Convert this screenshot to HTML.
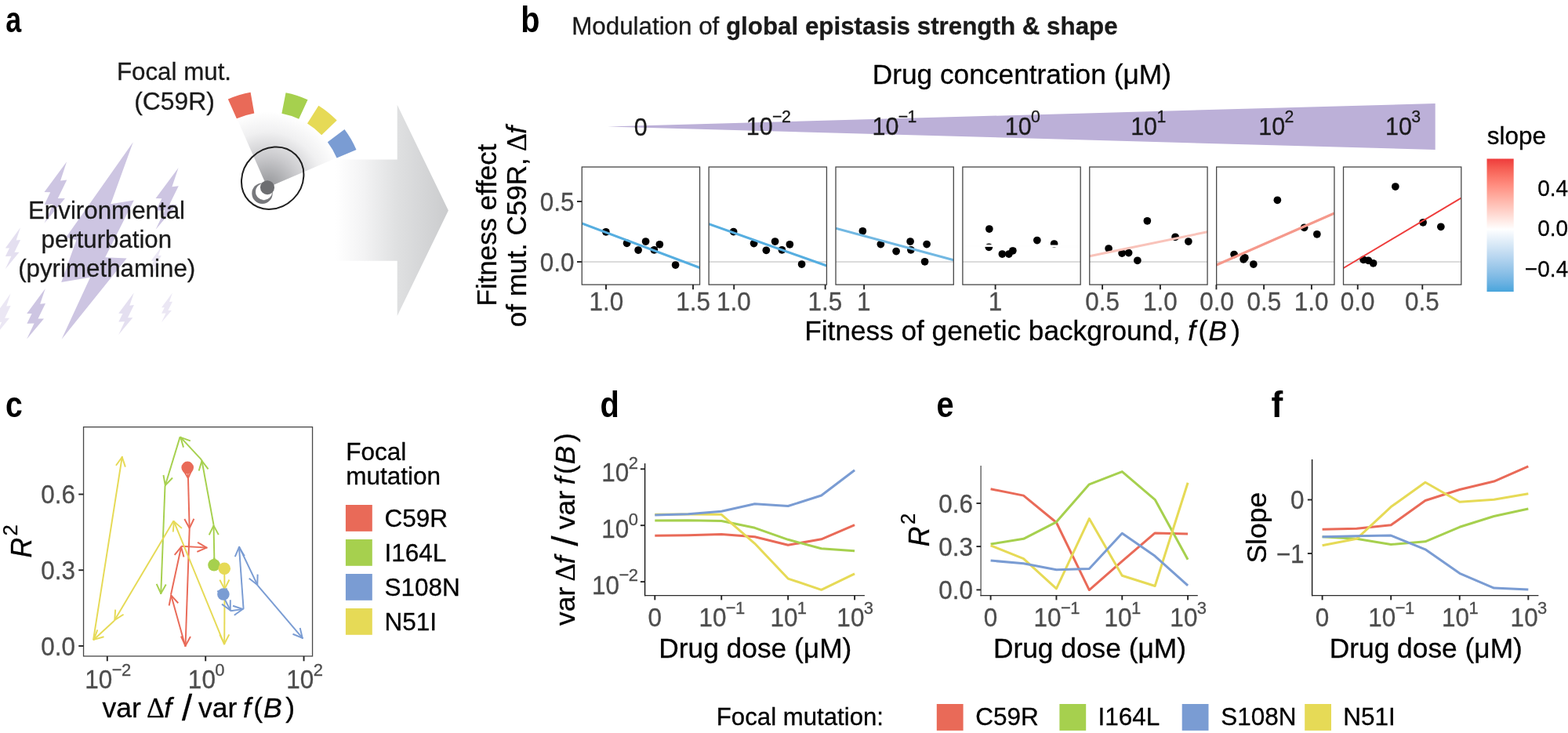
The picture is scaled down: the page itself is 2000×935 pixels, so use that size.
<!DOCTYPE html>
<html lang="en"><head><meta charset="utf-8"><title>Modulation of global epistasis strength &amp; shape</title>
<style>html,body{margin:0;padding:0;background:#fff;}body{width:2000px;height:935px;overflow:hidden;}svg{display:block;}text{font-family:'Liberation Sans', Arial, Helvetica, sans-serif;}</style>
</head><body>
<svg width="2000" height="935" viewBox="0 0 2000 935">
<defs>
<radialGradient id="gFan" gradientUnits="userSpaceOnUse" cx="341" cy="239.2" r="97"><stop offset="0" stop-color="#97989c"/><stop offset="0.14" stop-color="#a5a6a9"/><stop offset="0.4" stop-color="#c9c9cc"/><stop offset="0.73" stop-color="#f0f0f1"/><stop offset="1" stop-color="#ffffff"/></radialGradient>
<linearGradient id="gArrow" gradientUnits="userSpaceOnUse" x1="428" y1="0" x2="571" y2="0"><stop offset="0" stop-color="#ffffff"/><stop offset="0.25" stop-color="#f3f3f4"/><stop offset="0.55" stop-color="#dfe0e1"/><stop offset="1" stop-color="#cbccce"/></linearGradient>
<linearGradient id="gBar" x1="0" y1="0" x2="0" y2="1"><stop offset="0.0000" stop-color="#ee3b3b"/><stop offset="0.0663" stop-color="#f55b51"/><stop offset="0.1325" stop-color="#fb7568"/><stop offset="0.1988" stop-color="#ff8d80"/><stop offset="0.2650" stop-color="#ffa598"/><stop offset="0.3313" stop-color="#ffbcb1"/><stop offset="0.3976" stop-color="#ffd2ca"/><stop offset="0.4638" stop-color="#ffe9e4"/><stop offset="0.5301" stop-color="#ffffff"/><stop offset="0.5888" stop-color="#ebf3fb"/><stop offset="0.6476" stop-color="#d7e8f6"/><stop offset="0.7063" stop-color="#c3dcf2"/><stop offset="0.7650" stop-color="#aed1ee"/><stop offset="0.8238" stop-color="#98c6e9"/><stop offset="0.8825" stop-color="#81bbe5"/><stop offset="0.9413" stop-color="#67b0e1"/><stop offset="1.0000" stop-color="#48a5dc"/></linearGradient>
</defs>
<rect width="2000" height="935" fill="#fff"/>
<g id="panel-a">
<polygon points="169.8,181.3 141.2,260.3 170.8,255.6 134.2,328.3 161.6,329.4 78.6,432.8 115.1,353.8 78.2,360 97.4,306.2 84.2,302.8" fill="#cdc5e2"/>
<polygon points="85.1,206.3 77.1,230.4 85.3,229.4 73.8,253.0 82.9,253.0 56.5,284.8 67.9,260.4 56.7,260.9 64.2,245.3 56.5,245.1" fill="#cdc5e2"/>
<polygon points="227.6,214.0 219.4,238.2 227.8,237.2 216.1,260.9 225.4,260.9 198.6,292.8 210.2,268.3 198.8,268.8 206.4,253.2 198.6,252.9" fill="#cdc5e2"/>
<polygon points="26.0,290.3 20.6,306.6 26.1,305.9 18.4,321.8 24.5,321.8 6.8,343.3 14.4,326.8 6.9,327.1 12.0,316.6 6.8,316.5" fill="#e4dff0"/>
<polygon points="13.6,374.3 8.3,390.6 13.7,389.9 6.1,405.8 12.1,405.8 -5.3,427.3 2.2,410.8 -5.2,411.1 -0.2,400.6 -5.3,400.5" fill="#ebe7f4"/>
<polygon points="57.8,368.0 51.2,387.8 58.0,387.0 48.5,406.4 56.0,406.4 34.2,432.5 43.6,412.4 34.4,412.8 40.6,400.1 34.2,399.9" fill="#cdc5e2"/>
<polygon points="170.8,373.4 165.3,389.8 170.9,389.1 163.0,405.2 169.3,405.2 151.2,426.9 159.0,410.3 151.3,410.6 156.5,400.0 151.2,399.8" fill="#e4dff0"/>
<polygon points="219.9,373.6 216.0,385.1 220.0,384.7 214.4,396.0 218.9,396.0 206.0,411.2 211.5,399.5 206.1,399.7 209.8,392.3 206.0,392.2" fill="#ebe7f4"/>
<polygon points="205.7,315.0 201.9,326.2 205.8,325.7 200.4,336.7 204.7,336.7 192.3,351.5 197.6,340.1 192.4,340.4 195.9,333.1 192.3,333.0" fill="#ebe7f4"/>
<polygon points="428,203.4 506.7,203.4 506.7,133.8 571.9,268.4 506.7,403 506.7,332.7 428,332.7" fill="url(#gArrow)"/>
<path d="M341,239.2 L301.86,150.45 A97,97 0 0 1 430.16,200.99 Z" fill="url(#gFan)"/>
<path d="M301.87,151.32 L290.85,126.56 A123.3,123.3 0 0 1 319.59,117.77 L324.30,144.46 A96.2,96.2 0 0 0 301.87,151.32 Z" fill="#e96a58"/>
<path d="M359.36,144.77 L364.53,118.17 A123.3,123.3 0 0 1 392.52,127.18 L381.20,151.80 A96.2,96.2 0 0 0 359.36,144.77 Z" fill="#a6d04e"/>
<path d="M391.98,157.62 L406.34,134.64 A123.3,123.3 0 0 1 429.69,153.55 L410.20,172.37 A96.2,96.2 0 0 0 391.98,157.62 Z" fill="#e6da56"/>
<path d="M417.83,181.31 L439.47,165.00 A123.3,123.3 0 0 1 454.50,191.02 L429.55,201.61 A96.2,96.2 0 0 0 417.83,181.31 Z" fill="#7a9cd3"/>
<circle cx="334.5" cy="246.7" r="13.2" fill="#77787c"/>
<circle cx="336.6" cy="244.6" r="10.6" fill="#fff"/>
<circle cx="341" cy="239.2" r="9" fill="#6d6e71"/>
<ellipse cx="347.7" cy="227.2" rx="41.9" ry="37.4" transform="rotate(-45 347.7 227.2)" fill="none" stroke="#1f1f1f" stroke-width="2"/>
<text x="222.00" y="102.20" font-size="31.3" text-anchor="middle" fill="#1a1a1a" stroke="#1a1a1a" stroke-width="0.3">Focal mut.</text>
<text x="222.50" y="139.60" font-size="31.8" text-anchor="middle" fill="#1a1a1a" stroke="#1a1a1a" stroke-width="0.3">(C59R)</text>
<text x="136.00" y="278.70" font-size="31.3" text-anchor="middle" fill="#1a1a1a" stroke="#1a1a1a" stroke-width="0.3">Environmental</text>
<text x="135.80" y="316.30" font-size="31.2" text-anchor="middle" fill="#1a1a1a" stroke="#1a1a1a" stroke-width="0.3">perturbation</text>
<text x="136.20" y="353.10" font-size="31.3" text-anchor="middle" fill="#1a1a1a" stroke="#1a1a1a" stroke-width="0.3">(pyrimethamine)</text>
</g>
<g id="panel-b">
<text x="729.20" y="44.10" font-size="31.33" fill="#1a1a1a" stroke="#1a1a1a" stroke-width="0.3">Modulation of <tspan font-weight="bold">global epistasis strength &amp; shape</tspan></text>
<text x="1303.30" y="107.10" font-size="35.3" text-anchor="middle" stroke="#000" stroke-width="0.3">Drug concentration (μM)</text>
<polygon points="775,161.4 1830.7,132.1 1830.7,191" fill="#bcb0d8"/>
<text transform="translate(817.30 172.50) scale(1 1.035)" font-size="30.5" text-anchor="middle" fill="#1a1a1a" stroke="#1a1a1a" stroke-width="0.3">0</text>
<text transform="translate(980.00 172.40) scale(1 1.035)" font-size="30.5" text-anchor="middle" fill="#1a1a1a" stroke="#1a1a1a" stroke-width="0.3">10<tspan font-size="21.3" dy="-16.3" dx="-0.6" letter-spacing="-0.6">−2</tspan></text>
<text transform="translate(1140.60 172.40) scale(1 1.035)" font-size="30.5" text-anchor="middle" fill="#1a1a1a" stroke="#1a1a1a" stroke-width="0.3">10<tspan font-size="21.3" dy="-16.3" dx="-0.6" letter-spacing="-0.6">−1</tspan></text>
<text transform="translate(1304.00 172.40) scale(1 1.035)" font-size="30.5" text-anchor="middle" fill="#1a1a1a" stroke="#1a1a1a" stroke-width="0.3">10<tspan font-size="21.3" dy="-16.3" dx="-0.6" letter-spacing="-0.6">0</tspan></text>
<text transform="translate(1464.40 172.40) scale(1 1.035)" font-size="30.5" text-anchor="middle" fill="#1a1a1a" stroke="#1a1a1a" stroke-width="0.3">10<tspan font-size="21.3" dy="-16.3" dx="-0.6" letter-spacing="-0.6">1</tspan></text>
<text transform="translate(1627.50 172.40) scale(1 1.035)" font-size="30.5" text-anchor="middle" fill="#1a1a1a" stroke="#1a1a1a" stroke-width="0.3">10<tspan font-size="21.3" dy="-16.3" dx="-0.6" letter-spacing="-0.6">2</tspan></text>
<text transform="translate(1789.30 172.40) scale(1 1.035)" font-size="30.5" text-anchor="middle" fill="#1a1a1a" stroke="#1a1a1a" stroke-width="0.3">10<tspan font-size="21.3" dy="-16.3" dx="-0.6" letter-spacing="-0.6">3</tspan></text>
<text transform="translate(632.50 287.00) rotate(-90)" font-size="34.9" text-anchor="middle" stroke="#000" stroke-width="0.3">Fitness effect</text>
<text transform="translate(670.50 417.20) rotate(-90)" font-size="35.0" stroke="#000" stroke-width="0.3"><tspan x="0.00" y="0">of mut. C59R,</tspan><tspan x="224.20" y="0" font-family="Liberation Serif, serif" font-size="35.5">Δ</tspan><tspan x="246.40" y="0" font-style="italic" font-size="35.5">f</tspan></text>
<text transform="translate(1026.30 434.00)" font-size="35.2" stroke="#000" stroke-width="0.3"><tspan x="0.00" y="0">Fitness of genetic background,</tspan><tspan x="488.90" y="0" font-style="italic">f</tspan><tspan x="502.30" y="0">(</tspan><tspan x="515.10" y="0" font-style="italic">B</tspan><tspan x="543.90" y="0">)</tspan></text>
<line x1="736" y1="257" x2="742.25" y2="257" stroke="#242424" stroke-width="1.9"/>
<text transform="translate(732.50 268.60) scale(1 1.035)" font-size="31.5" text-anchor="end" fill="#4d4d4d" stroke="#4d4d4d" stroke-width="0.3">0.5</text>
<line x1="736" y1="334" x2="742.25" y2="334" stroke="#242424" stroke-width="1.9"/>
<text transform="translate(732.50 345.60) scale(1 1.035)" font-size="31.5" text-anchor="end" fill="#4d4d4d" stroke="#4d4d4d" stroke-width="0.3">0.0</text>
<clipPath id="cp0"><rect x="742.25" y="213.0" width="150.3" height="150.10000000000002"/></clipPath>
<g clip-path="url(#cp0)">
<line x1="742.25" y1="334" x2="892.55" y2="334" stroke="#cfcfcf" stroke-width="1.3"/>
<circle cx="772.85" cy="295.80" r="4.85" fill="#000"/>
<circle cx="799.60" cy="310.30" r="4.85" fill="#000"/>
<circle cx="814.10" cy="319.05" r="4.85" fill="#000"/>
<circle cx="823.60" cy="308.05" r="4.85" fill="#000"/>
<circle cx="834.35" cy="318.80" r="4.85" fill="#000"/>
<circle cx="841.35" cy="311.80" r="4.85" fill="#000"/>
<circle cx="861.60" cy="338.05" r="4.85" fill="#000"/>
<line x1="742.25" y1="285" x2="892.55" y2="341.5" stroke="#56aee0" stroke-width="3.1"/>
</g>
<rect x="742.25" y="213.0" width="150.3" height="150.10000000000002" fill="none" stroke="#474747" stroke-width="1.3"/>
<line x1="773" y1="363.1" x2="773" y2="369.3" stroke="#242424" stroke-width="1.9"/>
<text transform="translate(773.30 395.60) scale(1 1.035)" font-size="31.5" text-anchor="middle" fill="#4d4d4d" stroke="#4d4d4d" stroke-width="0.3">1.0</text>
<line x1="884.0" y1="363.1" x2="884.0" y2="369.3" stroke="#242424" stroke-width="1.9"/>
<text transform="translate(884.05 395.60) scale(1 1.035)" font-size="31.5" text-anchor="middle" fill="#4d4d4d" stroke="#4d4d4d" stroke-width="0.3">1.5</text>
<clipPath id="cp1"><rect x="904.13" y="213.0" width="150.3" height="150.10000000000002"/></clipPath>
<g clip-path="url(#cp1)">
<line x1="904.13" y1="334" x2="1054.43" y2="334" stroke="#cfcfcf" stroke-width="1.3"/>
<circle cx="935.60" cy="295.55" r="4.85" fill="#000"/>
<circle cx="961.60" cy="310.55" r="4.85" fill="#000"/>
<circle cx="977.35" cy="319.30" r="4.85" fill="#000"/>
<circle cx="988.60" cy="308.05" r="4.85" fill="#000"/>
<circle cx="997.35" cy="318.80" r="4.85" fill="#000"/>
<circle cx="1007.35" cy="311.80" r="4.85" fill="#000"/>
<circle cx="1022.60" cy="337.05" r="4.85" fill="#000"/>
<line x1="904.13" y1="285.75" x2="1054.43" y2="339" stroke="#56aee0" stroke-width="3.1"/>
</g>
<rect x="904.13" y="213.0" width="150.3" height="150.10000000000002" fill="none" stroke="#474747" stroke-width="1.3"/>
<line x1="936.2" y1="363.1" x2="936.2" y2="369.3" stroke="#242424" stroke-width="1.9"/>
<text transform="translate(935.80 395.60) scale(1 1.035)" font-size="31.5" text-anchor="middle" fill="#4d4d4d" stroke="#4d4d4d" stroke-width="0.3">1.0</text>
<line x1="1052.65" y1="363.1" x2="1052.65" y2="369.3" stroke="#242424" stroke-width="1.9"/>
<text transform="translate(1052.30 395.60) scale(1 1.035)" font-size="31.5" text-anchor="middle" fill="#4d4d4d" stroke="#4d4d4d" stroke-width="0.3">1.5</text>
<clipPath id="cp2"><rect x="1066.01" y="213.0" width="150.3" height="150.10000000000002"/></clipPath>
<g clip-path="url(#cp2)">
<line x1="1066.01" y1="334" x2="1216.31" y2="334" stroke="#cfcfcf" stroke-width="1.3"/>
<circle cx="1100.35" cy="294.80" r="4.85" fill="#000"/>
<circle cx="1123.35" cy="311.55" r="4.85" fill="#000"/>
<circle cx="1143.10" cy="320.55" r="4.85" fill="#000"/>
<circle cx="1161.10" cy="308.05" r="4.85" fill="#000"/>
<circle cx="1161.85" cy="318.80" r="4.85" fill="#000"/>
<circle cx="1182.10" cy="311.55" r="4.85" fill="#000"/>
<circle cx="1179.60" cy="333.80" r="4.85" fill="#000"/>
<line x1="1066.01" y1="291.25" x2="1216.31" y2="331.75" stroke="#72b8e2" stroke-width="2.9"/>
</g>
<rect x="1066.01" y="213.0" width="150.3" height="150.10000000000002" fill="none" stroke="#474747" stroke-width="1.3"/>
<line x1="1102.1" y1="363.1" x2="1102.1" y2="369.3" stroke="#242424" stroke-width="1.9"/>
<text transform="translate(1101.80 395.60) scale(1 1.035)" font-size="31.5" text-anchor="middle" fill="#4d4d4d" stroke="#4d4d4d" stroke-width="0.3">1</text>
<clipPath id="cp3"><rect x="1227.89" y="213.0" width="150.3" height="150.10000000000002"/></clipPath>
<g clip-path="url(#cp3)">
<line x1="1227.89" y1="334" x2="1378.19" y2="334" stroke="#cfcfcf" stroke-width="1.3"/>
<circle cx="1261.85" cy="292.05" r="4.85" fill="#000"/>
<circle cx="1261.35" cy="315.30" r="4.85" fill="#000"/>
<circle cx="1278.35" cy="324.05" r="4.85" fill="#000"/>
<circle cx="1286.85" cy="324.05" r="4.85" fill="#000"/>
<circle cx="1291.85" cy="319.80" r="4.85" fill="#000"/>
<circle cx="1322.85" cy="306.55" r="4.85" fill="#000"/>
<circle cx="1344.60" cy="311.05" r="4.85" fill="#000"/>
<line x1="1227.89" y1="313.2" x2="1378.19" y2="314.2" stroke="#fefefe" stroke-width="2.9"/>
</g>
<rect x="1227.89" y="213.0" width="150.3" height="150.10000000000002" fill="none" stroke="#474747" stroke-width="1.3"/>
<line x1="1269.6" y1="363.1" x2="1269.6" y2="369.3" stroke="#242424" stroke-width="1.9"/>
<text transform="translate(1269.55 395.60) scale(1 1.035)" font-size="31.5" text-anchor="middle" fill="#4d4d4d" stroke="#4d4d4d" stroke-width="0.3">1</text>
<clipPath id="cp4"><rect x="1389.77" y="213.0" width="150.3" height="150.10000000000002"/></clipPath>
<g clip-path="url(#cp4)">
<line x1="1389.77" y1="334" x2="1540.07" y2="334" stroke="#cfcfcf" stroke-width="1.3"/>
<circle cx="1414.10" cy="317.05" r="4.85" fill="#000"/>
<circle cx="1431.10" cy="323.05" r="4.85" fill="#000"/>
<circle cx="1439.60" cy="322.55" r="4.85" fill="#000"/>
<circle cx="1450.85" cy="332.30" r="4.85" fill="#000"/>
<circle cx="1463.35" cy="281.80" r="4.85" fill="#000"/>
<circle cx="1499.10" cy="302.30" r="4.85" fill="#000"/>
<circle cx="1515.85" cy="308.05" r="4.85" fill="#000"/>
<line x1="1389.77" y1="326.75" x2="1540.07" y2="295.75" stroke="#f9c3ba" stroke-width="2.9"/>
</g>
<rect x="1389.77" y="213.0" width="150.3" height="150.10000000000002" fill="none" stroke="#474747" stroke-width="1.3"/>
<line x1="1406.1" y1="363.1" x2="1406.1" y2="369.3" stroke="#242424" stroke-width="1.9"/>
<text transform="translate(1406.05 395.60) scale(1 1.035)" font-size="31.5" text-anchor="middle" fill="#4d4d4d" stroke="#4d4d4d" stroke-width="0.3">0.5</text>
<line x1="1479.9" y1="363.1" x2="1479.9" y2="369.3" stroke="#242424" stroke-width="1.9"/>
<text transform="translate(1479.80 395.60) scale(1 1.035)" font-size="31.5" text-anchor="middle" fill="#4d4d4d" stroke="#4d4d4d" stroke-width="0.3">1.0</text>
<clipPath id="cp5"><rect x="1551.65" y="213.0" width="150.3" height="150.10000000000002"/></clipPath>
<g clip-path="url(#cp5)">
<line x1="1551.65" y1="334" x2="1701.95" y2="334" stroke="#cfcfcf" stroke-width="1.3"/>
<circle cx="1574.10" cy="324.55" r="4.85" fill="#000"/>
<circle cx="1587.85" cy="328.80" r="4.85" fill="#000"/>
<circle cx="1586.10" cy="330.80" r="4.85" fill="#000"/>
<circle cx="1598.85" cy="337.05" r="4.85" fill="#000"/>
<circle cx="1629.35" cy="255.30" r="4.85" fill="#000"/>
<circle cx="1663.60" cy="290.30" r="4.85" fill="#000"/>
<circle cx="1679.85" cy="298.80" r="4.85" fill="#000"/>
<line x1="1551.65" y1="338" x2="1701.95" y2="272" stroke="#f5998c" stroke-width="3.3"/>
</g>
<rect x="1551.65" y="213.0" width="150.3" height="150.10000000000002" fill="none" stroke="#474747" stroke-width="1.3"/>
<line x1="1551.45" y1="363.1" x2="1551.45" y2="369.3" stroke="#242424" stroke-width="1.9"/>
<text transform="translate(1552.05 395.60) scale(1 1.035)" font-size="31.5" text-anchor="middle" fill="#4d4d4d" stroke="#4d4d4d" stroke-width="0.3">0.0</text>
<line x1="1612.1" y1="363.1" x2="1612.1" y2="369.3" stroke="#242424" stroke-width="1.9"/>
<text transform="translate(1612.40 395.60) scale(1 1.035)" font-size="31.5" text-anchor="middle" fill="#4d4d4d" stroke="#4d4d4d" stroke-width="0.3">0.5</text>
<line x1="1672.9" y1="363.1" x2="1672.9" y2="369.3" stroke="#242424" stroke-width="1.9"/>
<text transform="translate(1672.55 395.60) scale(1 1.035)" font-size="31.5" text-anchor="middle" fill="#4d4d4d" stroke="#4d4d4d" stroke-width="0.3">1.0</text>
<clipPath id="cp6"><rect x="1713.53" y="213.0" width="150.3" height="150.10000000000002"/></clipPath>
<g clip-path="url(#cp6)">
<line x1="1713.53" y1="334" x2="1863.83" y2="334" stroke="#cfcfcf" stroke-width="1.3"/>
<circle cx="1739.10" cy="331.30" r="4.85" fill="#000"/>
<circle cx="1745.35" cy="332.30" r="4.85" fill="#000"/>
<circle cx="1751.60" cy="335.80" r="4.85" fill="#000"/>
<circle cx="1779.85" cy="238.05" r="4.85" fill="#000"/>
<circle cx="1815.10" cy="283.80" r="4.85" fill="#000"/>
<circle cx="1837.85" cy="289.30" r="4.85" fill="#000"/>
<line x1="1713.53" y1="342" x2="1863.83" y2="252.5" stroke="#ee3b3a" stroke-width="2.0"/>
</g>
<rect x="1713.53" y="213.0" width="150.3" height="150.10000000000002" fill="none" stroke="#474747" stroke-width="1.3"/>
<line x1="1731.75" y1="363.1" x2="1731.75" y2="369.3" stroke="#242424" stroke-width="1.9"/>
<text transform="translate(1731.60 395.60) scale(1 1.035)" font-size="31.5" text-anchor="middle" fill="#4d4d4d" stroke="#4d4d4d" stroke-width="0.3">0.0</text>
<line x1="1814.3" y1="363.1" x2="1814.3" y2="369.3" stroke="#242424" stroke-width="1.9"/>
<text transform="translate(1813.80 395.60) scale(1 1.035)" font-size="31.5" text-anchor="middle" fill="#4d4d4d" stroke="#4d4d4d" stroke-width="0.3">0.5</text>
<text x="1896.80" y="183.80" font-size="31.5" stroke="#000" stroke-width="0.3">slope</text>
<rect x="1896.5" y="202.5" width="34.2" height="169.6" fill="url(#gBar)"/>
<text transform="translate(2000.20 250.20) scale(1 1.035)" font-size="28" text-anchor="end" stroke="#000" stroke-width="0.3">0.4</text>
<text transform="translate(2000.20 301.40) scale(1 1.035)" font-size="28" text-anchor="end" stroke="#000" stroke-width="0.3">0.0</text>
<text transform="translate(2000.20 353.20) scale(1 1.035)" font-size="28" text-anchor="end" stroke="#000" stroke-width="0.3">−0.4</text>
</g>
<g id="panel-c">
<line x1="239.2" y1="596.4" x2="240.0" y2="610.9" stroke="#e96a58" stroke-width="1.95"/>
<polyline points="233.26,598.43 239.95,609.93 245.32,597.76" fill="none" stroke="#e96a58" stroke-width="1.95" stroke-linejoin="round"/>
<line x1="240.0" y1="610.9" x2="241.7" y2="674.6999999999999" stroke="#e96a58" stroke-width="1.95"/>
<polyline points="235.32,662.04 241.67,673.73 247.39,661.72" fill="none" stroke="#e96a58" stroke-width="1.95" stroke-linejoin="round"/>
<line x1="241.7" y1="674.6999999999999" x2="236.5" y2="824.6999999999999" stroke="#e96a58" stroke-width="1.95"/>
<polyline points="230.91,811.67 236.53,823.73 242.98,812.09" fill="none" stroke="#e96a58" stroke-width="1.95" stroke-linejoin="round"/>
<line x1="236.5" y1="824.6999999999999" x2="218.0" y2="758.5" stroke="#e96a58" stroke-width="1.95"/>
<polyline points="227.27,769.23 218.26,759.44 215.64,772.48" fill="none" stroke="#e96a58" stroke-width="1.95" stroke-linejoin="round"/>
<line x1="218.0" y1="758.5" x2="231.29999999999998" y2="696.6999999999999" stroke="#e96a58" stroke-width="1.95"/>
<polyline points="234.50,710.51 231.09,697.65 222.70,707.97" fill="none" stroke="#e96a58" stroke-width="1.95" stroke-linejoin="round"/>
<line x1="231.29999999999998" y1="696.6999999999999" x2="264.5" y2="698.5999999999999" stroke="#e96a58" stroke-width="1.95"/>
<polyline points="251.35,703.90 263.53,698.54 252.04,691.84" fill="none" stroke="#e96a58" stroke-width="1.95" stroke-linejoin="round"/>
<line x1="273.0" y1="720.8" x2="273.3" y2="710.9" stroke="#a6d04e" stroke-width="1.95"/>
<polyline points="278.95,723.90 273.27,711.87 266.88,723.54" fill="none" stroke="#a6d04e" stroke-width="1.95" stroke-linejoin="round"/>
<line x1="273.3" y1="710.9" x2="272.5" y2="669.4" stroke="#a6d04e" stroke-width="1.95"/>
<polyline points="278.78,682.11 272.52,670.37 266.71,682.34" fill="none" stroke="#a6d04e" stroke-width="1.95" stroke-linejoin="round"/>
<line x1="272.5" y1="669.4" x2="257.3" y2="586.8" stroke="#a6d04e" stroke-width="1.95"/>
<polyline points="265.56,598.32 257.48,587.76 253.68,600.51" fill="none" stroke="#a6d04e" stroke-width="1.95" stroke-linejoin="round"/>
<line x1="257.3" y1="586.8" x2="229.7" y2="557.0999999999999" stroke="#a6d04e" stroke-width="1.95"/>
<polyline points="242.85,562.38 230.36,557.81 234.01,570.61" fill="none" stroke="#a6d04e" stroke-width="1.95" stroke-linejoin="round"/>
<line x1="229.7" y1="557.0999999999999" x2="210.5" y2="620.0" stroke="#a6d04e" stroke-width="1.95"/>
<polyline points="208.47,605.97 210.78,619.07 220.02,609.50" fill="none" stroke="#a6d04e" stroke-width="1.95" stroke-linejoin="round"/>
<line x1="210.5" y1="620.0" x2="205.2" y2="758.0" stroke="#a6d04e" stroke-width="1.95"/>
<polyline points="199.66,744.95 205.24,757.03 211.73,745.42" fill="none" stroke="#a6d04e" stroke-width="1.95" stroke-linejoin="round"/>
<line x1="286.20000000000005" y1="725.3" x2="286.5" y2="752.4" stroke="#e6da56" stroke-width="1.95"/>
<polyline points="280.32,739.64 286.49,751.43 292.40,739.51" fill="none" stroke="#e6da56" stroke-width="1.95" stroke-linejoin="round"/>
<line x1="286.5" y1="752.4" x2="286.20000000000005" y2="822.1999999999999" stroke="#e6da56" stroke-width="1.95"/>
<polyline points="280.22,809.35 286.20,821.23 292.29,809.40" fill="none" stroke="#e6da56" stroke-width="1.95" stroke-linejoin="round"/>
<line x1="286.20000000000005" y1="822.1999999999999" x2="221.5" y2="664.3" stroke="#e6da56" stroke-width="1.95"/>
<polyline points="231.95,673.88 221.87,665.20 220.78,678.46" fill="none" stroke="#e6da56" stroke-width="1.95" stroke-linejoin="round"/>
<line x1="221.5" y1="664.3" x2="145.79999999999998" y2="791.6999999999999" stroke="#e6da56" stroke-width="1.95"/>
<polyline points="147.16,777.59 146.30,790.86 157.54,783.76" fill="none" stroke="#e6da56" stroke-width="1.95" stroke-linejoin="round"/>
<line x1="145.79999999999998" y1="791.6999999999999" x2="119.0" y2="816.5" stroke="#e6da56" stroke-width="1.95"/>
<polyline points="124.31,803.36 119.72,815.84 132.51,812.22" fill="none" stroke="#e6da56" stroke-width="1.95" stroke-linejoin="round"/>
<line x1="119.0" y1="816.5" x2="155.9" y2="582.0" stroke="#e6da56" stroke-width="1.95"/>
<polyline points="159.87,595.61 155.75,582.96 147.94,593.73" fill="none" stroke="#e6da56" stroke-width="1.95" stroke-linejoin="round"/>
<line x1="284.90000000000003" y1="758.0" x2="286.6" y2="764.3" stroke="#7a9cd3" stroke-width="1.95"/>
<polyline points="277.43,753.49 286.35,763.36 289.09,750.34" fill="none" stroke="#7a9cd3" stroke-width="1.95" stroke-linejoin="round"/>
<line x1="286.6" y1="764.3" x2="294.20000000000005" y2="779.3" stroke="#7a9cd3" stroke-width="1.95"/>
<polyline points="283.02,770.59 293.76,778.43 293.79,765.13" fill="none" stroke="#7a9cd3" stroke-width="1.95" stroke-linejoin="round"/>
<line x1="294.20000000000005" y1="779.3" x2="310.6" y2="776.9" stroke="#7a9cd3" stroke-width="1.95"/>
<polyline points="298.78,784.73 309.64,777.04 297.04,772.78" fill="none" stroke="#7a9cd3" stroke-width="1.95" stroke-linejoin="round"/>
<line x1="310.6" y1="776.9" x2="304.90000000000003" y2="697.0" stroke="#7a9cd3" stroke-width="1.95"/>
<polyline points="311.84,709.36 304.97,697.97 299.79,710.22" fill="none" stroke="#7a9cd3" stroke-width="1.95" stroke-linejoin="round"/>
<line x1="304.90000000000003" y1="697.0" x2="328.70000000000005" y2="746.8" stroke="#7a9cd3" stroke-width="1.95"/>
<polyline points="317.72,737.83 328.28,745.92 328.62,732.62" fill="none" stroke="#7a9cd3" stroke-width="1.95" stroke-linejoin="round"/>
<line x1="328.70000000000005" y1="746.8" x2="386.40000000000003" y2="814.5999999999999" stroke="#7a9cd3" stroke-width="1.95"/>
<polyline points="373.49,808.75 385.77,813.86 382.69,800.92" fill="none" stroke="#7a9cd3" stroke-width="1.95" stroke-linejoin="round"/>
<circle cx="239.2" cy="596.4" r="7.8" fill="#e96a58"/>
<circle cx="273.0" cy="720.8" r="7.8" fill="#a6d04e"/>
<circle cx="286.20000000000005" cy="725.3" r="7.8" fill="#e6da56"/>
<circle cx="284.90000000000003" cy="758.0" r="7.8" fill="#7a9cd3"/>
<rect x="106.55" y="544.7" width="292.0" height="292.29999999999995" fill="none" stroke="#474747" stroke-width="1.3"/>
<line x1="100.25" y1="630.5" x2="106.55" y2="630.5" stroke="#242424" stroke-width="1.9"/>
<text transform="translate(96.00 642.10) scale(1 1.035)" font-size="31.5" text-anchor="end" fill="#4d4d4d" stroke="#4d4d4d" stroke-width="0.3">0.6</text>
<line x1="100.25" y1="727.25" x2="106.55" y2="727.25" stroke="#242424" stroke-width="1.9"/>
<text transform="translate(96.00 738.85) scale(1 1.035)" font-size="31.5" text-anchor="end" fill="#4d4d4d" stroke="#4d4d4d" stroke-width="0.3">0.3</text>
<line x1="100.25" y1="824.0" x2="106.55" y2="824.0" stroke="#242424" stroke-width="1.9"/>
<text transform="translate(96.00 835.60) scale(1 1.035)" font-size="31.5" text-anchor="end" fill="#4d4d4d" stroke="#4d4d4d" stroke-width="0.3">0.0</text>
<line x1="136.8" y1="837.0" x2="136.8" y2="843.3" stroke="#242424" stroke-width="1.9"/>
<text transform="translate(137.50 877.80) scale(1 1.035)" font-size="31.5" text-anchor="middle" fill="#4d4d4d" stroke="#4d4d4d" stroke-width="0.3">10<tspan font-size="22.0" dy="-15.6" dx="-0.6" letter-spacing="-0.6">−2</tspan></text>
<line x1="262.2" y1="837.0" x2="262.2" y2="843.3" stroke="#242424" stroke-width="1.9"/>
<text transform="translate(262.90 877.80) scale(1 1.035)" font-size="31.5" text-anchor="middle" fill="#4d4d4d" stroke="#4d4d4d" stroke-width="0.3">10<tspan font-size="22.0" dy="-15.6" dx="-0.6" letter-spacing="-0.6">0</tspan></text>
<line x1="387.55" y1="837.0" x2="387.55" y2="843.3" stroke="#242424" stroke-width="1.9"/>
<text transform="translate(388.25 877.80) scale(1 1.035)" font-size="31.5" text-anchor="middle" fill="#4d4d4d" stroke="#4d4d4d" stroke-width="0.3">10<tspan font-size="22.0" dy="-15.6" dx="-0.6" letter-spacing="-0.6">2</tspan></text>
<text transform="translate(39.90 711.50) rotate(-90) scale(1 1.04)" font-size="35.5" stroke="#000" stroke-width="0.3"><tspan x="0.00" y="0" font-style="italic">R</tspan><tspan x="27.90" y="-17.0" font-size="25.6">2</tspan></text>
<text transform="translate(130.50 915.40)" font-size="35.5" stroke="#000" stroke-width="0.3"><tspan x="0.00" y="0">var</tspan><tspan x="56.40" y="0" font-family="Liberation Serif, serif">Δ</tspan><tspan x="78.70" y="0" font-style="italic">f</tspan><tspan x="101.50" y="4" font-size="47">/</tspan><tspan x="122.55" y="0">var</tspan><tspan x="179.60" y="0" font-style="italic">f</tspan><tspan x="192.80" y="0">(</tspan><tspan x="205.60" y="0" font-style="italic">B</tspan><tspan x="233.80" y="0">)</tspan></text>
<text x="441.30" y="586.80" font-size="31.5" stroke="#000" stroke-width="0.3">Focal</text>
<text x="441.30" y="617.80" font-size="31.5" stroke="#000" stroke-width="0.3">mutation</text>
<rect x="440.9" y="644" width="33.9" height="33.8" fill="#e96a58"/>
<text x="490.50" y="672.20" font-size="31.5" stroke="#000" stroke-width="0.3">C59R</text>
<rect x="440.9" y="688" width="33.9" height="33.8" fill="#a6d04e"/>
<text x="490.50" y="716.20" font-size="31.5" stroke="#000" stroke-width="0.3">I164L</text>
<rect x="440.9" y="732" width="33.9" height="33.8" fill="#7a9cd3"/>
<text x="490.50" y="760.20" font-size="31.5" stroke="#000" stroke-width="0.3">S108N</text>
<rect x="440.9" y="776" width="33.9" height="33.8" fill="#e6da56"/>
<text x="490.50" y="804.20" font-size="31.5" stroke="#000" stroke-width="0.3">N51I</text>
</g>
<g id="panel-d">
<polyline points="835.30,683.30 877.77,682.80 920.23,681.55 962.70,684.80 1005.17,695.30 1047.63,687.80 1090.10,669.55" fill="none" stroke="#e96a58" stroke-width="3" stroke-linejoin="round"/>
<polyline points="835.30,664.05 877.77,663.80 920.23,664.55 962.70,673.30 1005.17,688.30 1047.63,699.80 1090.10,702.80" fill="none" stroke="#a6d04e" stroke-width="3" stroke-linejoin="round"/>
<polyline points="835.30,656.30 877.77,656.05 920.23,656.30 962.70,693.30 1005.17,738.05 1047.63,752.30 1090.10,731.80" fill="none" stroke="#e6da56" stroke-width="3" stroke-linejoin="round"/>
<polyline points="835.30,657.05 877.77,655.80 920.23,652.30 962.70,642.80 1005.17,645.55 1047.63,632.05 1090.10,599.80" fill="none" stroke="#7a9cd3" stroke-width="3" stroke-linejoin="round"/>
<path d="M822.6,591.1 V760.25" fill="none" stroke="#0a0a0a" stroke-width="1.3"/>
<path d="M821.95,759.65 H1102.9" fill="none" stroke="#2a2a2a" stroke-width="1.3"/>
<line x1="816.9" y1="598.3" x2="822.6" y2="598.3" stroke="#242424" stroke-width="1.9"/>
<text transform="translate(813.30 613.80) scale(1 1.035)" font-size="31.5" text-anchor="end" fill="#4d4d4d" stroke="#4d4d4d" stroke-width="0.3">10<tspan font-size="22.0" dy="-15.6" dx="-0.6" letter-spacing="-0.6">2</tspan></text>
<line x1="816.9" y1="670.2" x2="822.6" y2="670.2" stroke="#242424" stroke-width="1.9"/>
<text transform="translate(813.30 685.70) scale(1 1.035)" font-size="31.5" text-anchor="end" fill="#4d4d4d" stroke="#4d4d4d" stroke-width="0.3">10<tspan font-size="22.0" dy="-15.6" dx="-0.6" letter-spacing="-0.6">0</tspan></text>
<line x1="816.9" y1="742.1" x2="822.6" y2="742.1" stroke="#242424" stroke-width="1.9"/>
<text transform="translate(813.30 757.60) scale(1 1.035)" font-size="31.5" text-anchor="end" fill="#4d4d4d" stroke="#4d4d4d" stroke-width="0.3">10<tspan font-size="22.0" dy="-15.6" dx="-0.6" letter-spacing="-0.6">−2</tspan></text>
<line x1="835.30" y1="759.65" x2="835.30" y2="765.35" stroke="#242424" stroke-width="1.9"/>
<text transform="translate(835.30 799.25) scale(1 1.035)" font-size="31.5" text-anchor="middle" fill="#4d4d4d" stroke="#4d4d4d" stroke-width="0.3">0</text>
<line x1="920.23" y1="759.65" x2="920.23" y2="765.35" stroke="#242424" stroke-width="1.9"/>
<text transform="translate(920.53 799.25) scale(1 1.035)" font-size="31.5" text-anchor="middle" fill="#4d4d4d" stroke="#4d4d4d" stroke-width="0.3">10<tspan font-size="22.0" dy="-15.6" dx="-0.6" letter-spacing="-0.6">−1</tspan></text>
<line x1="1005.17" y1="759.65" x2="1005.17" y2="765.35" stroke="#242424" stroke-width="1.9"/>
<text transform="translate(1005.47 799.25) scale(1 1.035)" font-size="31.5" text-anchor="middle" fill="#4d4d4d" stroke="#4d4d4d" stroke-width="0.3">10<tspan font-size="22.0" dy="-15.6" dx="-0.6" letter-spacing="-0.6">1</tspan></text>
<line x1="1090.10" y1="759.65" x2="1090.10" y2="765.35" stroke="#242424" stroke-width="1.9"/>
<text transform="translate(1090.40 799.25) scale(1 1.035)" font-size="31.5" text-anchor="middle" fill="#4d4d4d" stroke="#4d4d4d" stroke-width="0.3">10<tspan font-size="22.0" dy="-15.6" dx="-0.6" letter-spacing="-0.6">3</tspan></text>
<text x="963.30" y="838.60" font-size="35.35" text-anchor="middle" stroke="#000" stroke-width="0.3">Drug dose (μM)</text>
<text transform="translate(733.40 797.90) rotate(-90)" font-size="35.5" stroke="#000" stroke-width="0.3"><tspan x="0.00" y="0">var</tspan><tspan x="56.40" y="0" font-family="Liberation Serif, serif">Δ</tspan><tspan x="78.70" y="0" font-style="italic">f</tspan><tspan x="101.50" y="4" font-size="47">/</tspan><tspan x="122.55" y="0">var</tspan><tspan x="179.60" y="0" font-style="italic">f</tspan><tspan x="192.80" y="0">(</tspan><tspan x="205.60" y="0" font-style="italic">B</tspan><tspan x="233.80" y="0">)</tspan></text>
</g>
<g id="panel-e">
<polyline points="1263.60,623.80 1305.52,632.10 1347.43,666.50 1389.35,752.55 1431.27,715.80 1473.18,679.90 1515.10,681.10" fill="none" stroke="#e96a58" stroke-width="3" stroke-linejoin="round"/>
<polyline points="1263.60,694.05 1305.52,687.30 1347.43,665.80 1389.35,617.80 1431.27,601.55 1473.18,637.30 1515.10,713.80" fill="none" stroke="#a6d04e" stroke-width="3" stroke-linejoin="round"/>
<polyline points="1263.60,695.80 1305.52,712.55 1347.43,750.80 1389.35,661.55 1431.27,734.30 1473.18,747.55 1515.10,615.80" fill="none" stroke="#e6da56" stroke-width="3" stroke-linejoin="round"/>
<polyline points="1263.60,715.05 1305.52,718.80 1347.43,726.80 1389.35,725.55 1431.27,680.30 1473.18,709.30 1515.10,746.80" fill="none" stroke="#7a9cd3" stroke-width="3" stroke-linejoin="round"/>
<path d="M1251.15,593.9 V760.25" fill="none" stroke="#6c6c6c" stroke-width="1.5"/>
<path d="M1250.4,759.65 H1527.8" fill="none" stroke="#2a2a2a" stroke-width="1.3"/>
<line x1="1245.45" y1="642" x2="1251.15" y2="642" stroke="#242424" stroke-width="1.9"/>
<text transform="translate(1241.15 653.60) scale(1 1.035)" font-size="31.5" text-anchor="end" fill="#4d4d4d" stroke="#4d4d4d" stroke-width="0.3">0.6</text>
<line x1="1245.45" y1="697.1" x2="1251.15" y2="697.1" stroke="#242424" stroke-width="1.9"/>
<text transform="translate(1241.15 708.70) scale(1 1.035)" font-size="31.5" text-anchor="end" fill="#4d4d4d" stroke="#4d4d4d" stroke-width="0.3">0.3</text>
<line x1="1245.45" y1="752.4" x2="1251.15" y2="752.4" stroke="#242424" stroke-width="1.9"/>
<text transform="translate(1241.15 764.00) scale(1 1.035)" font-size="31.5" text-anchor="end" fill="#4d4d4d" stroke="#4d4d4d" stroke-width="0.3">0.0</text>
<line x1="1263.60" y1="759.65" x2="1263.60" y2="765.35" stroke="#242424" stroke-width="1.9"/>
<text transform="translate(1263.60 799.25) scale(1 1.035)" font-size="31.5" text-anchor="middle" fill="#4d4d4d" stroke="#4d4d4d" stroke-width="0.3">0</text>
<line x1="1347.43" y1="759.65" x2="1347.43" y2="765.35" stroke="#242424" stroke-width="1.9"/>
<text transform="translate(1347.73 799.25) scale(1 1.035)" font-size="31.5" text-anchor="middle" fill="#4d4d4d" stroke="#4d4d4d" stroke-width="0.3">10<tspan font-size="22.0" dy="-15.6" dx="-0.6" letter-spacing="-0.6">−1</tspan></text>
<line x1="1431.27" y1="759.65" x2="1431.27" y2="765.35" stroke="#242424" stroke-width="1.9"/>
<text transform="translate(1431.57 799.25) scale(1 1.035)" font-size="31.5" text-anchor="middle" fill="#4d4d4d" stroke="#4d4d4d" stroke-width="0.3">10<tspan font-size="22.0" dy="-15.6" dx="-0.6" letter-spacing="-0.6">1</tspan></text>
<line x1="1515.10" y1="759.65" x2="1515.10" y2="765.35" stroke="#242424" stroke-width="1.9"/>
<text transform="translate(1515.40 799.25) scale(1 1.035)" font-size="31.5" text-anchor="middle" fill="#4d4d4d" stroke="#4d4d4d" stroke-width="0.3">10<tspan font-size="22.0" dy="-15.6" dx="-0.6" letter-spacing="-0.6">3</tspan></text>
<text x="1390.00" y="838.60" font-size="35.35" text-anchor="middle" stroke="#000" stroke-width="0.3">Drug dose (μM)</text>
<text transform="translate(1184.50 697.30) rotate(-90) scale(1 1.04)" font-size="35.5" stroke="#000" stroke-width="0.3"><tspan x="0.00" y="0" font-style="italic">R</tspan><tspan x="28.20" y="-16.8" font-size="25.6">2</tspan></text>
</g>
<g id="panel-f">
<polyline points="1686.60,675.30 1730.39,674.30 1774.18,669.80 1817.97,638.55 1861.77,624.55 1905.56,614.05 1949.35,594.80" fill="none" stroke="#e96a58" stroke-width="3" stroke-linejoin="round"/>
<polyline points="1686.60,684.80 1730.39,687.30 1774.18,694.55 1817.97,690.80 1861.77,672.30 1905.56,658.55 1949.35,649.05" fill="none" stroke="#a6d04e" stroke-width="3" stroke-linejoin="round"/>
<polyline points="1686.60,695.80 1730.39,687.30 1774.18,646.55 1817.97,615.30 1861.77,640.30 1905.56,637.30 1949.35,629.80" fill="none" stroke="#e6da56" stroke-width="3" stroke-linejoin="round"/>
<polyline points="1686.60,684.80 1730.39,683.80 1774.18,683.05 1817.97,700.80 1861.77,731.30 1905.56,750.05 1949.35,752.05" fill="none" stroke="#7a9cd3" stroke-width="3" stroke-linejoin="round"/>
<path d="M1673.6,586.0 V760.25" fill="none" stroke="#0a0a0a" stroke-width="1.3"/>
<path d="M1672.9499999999998,759.65 H1962.4" fill="none" stroke="#2a2a2a" stroke-width="1.3"/>
<line x1="1667.8999999999999" y1="637.5" x2="1673.6" y2="637.5" stroke="#242424" stroke-width="1.9"/>
<text transform="translate(1663.60 649.10) scale(1 1.035)" font-size="31.5" text-anchor="end" fill="#4d4d4d" stroke="#4d4d4d" stroke-width="0.3">0</text>
<line x1="1667.8999999999999" y1="706" x2="1673.6" y2="706" stroke="#242424" stroke-width="1.9"/>
<text transform="translate(1663.60 717.60) scale(1 1.035)" font-size="31.5" text-anchor="end" fill="#4d4d4d" stroke="#4d4d4d" stroke-width="0.3">−1</text>
<line x1="1686.60" y1="759.65" x2="1686.60" y2="765.35" stroke="#242424" stroke-width="1.9"/>
<text transform="translate(1686.60 799.25) scale(1 1.035)" font-size="31.5" text-anchor="middle" fill="#4d4d4d" stroke="#4d4d4d" stroke-width="0.3">0</text>
<line x1="1774.18" y1="759.65" x2="1774.18" y2="765.35" stroke="#242424" stroke-width="1.9"/>
<text transform="translate(1774.48 799.25) scale(1 1.035)" font-size="31.5" text-anchor="middle" fill="#4d4d4d" stroke="#4d4d4d" stroke-width="0.3">10<tspan font-size="22.0" dy="-15.6" dx="-0.6" letter-spacing="-0.6">−1</tspan></text>
<line x1="1861.77" y1="759.65" x2="1861.77" y2="765.35" stroke="#242424" stroke-width="1.9"/>
<text transform="translate(1862.07 799.25) scale(1 1.035)" font-size="31.5" text-anchor="middle" fill="#4d4d4d" stroke="#4d4d4d" stroke-width="0.3">10<tspan font-size="22.0" dy="-15.6" dx="-0.6" letter-spacing="-0.6">1</tspan></text>
<line x1="1949.35" y1="759.65" x2="1949.35" y2="765.35" stroke="#242424" stroke-width="1.9"/>
<text transform="translate(1949.65 799.25) scale(1 1.035)" font-size="31.5" text-anchor="middle" fill="#4d4d4d" stroke="#4d4d4d" stroke-width="0.3">10<tspan font-size="22.0" dy="-15.6" dx="-0.6" letter-spacing="-0.6">3</tspan></text>
<text x="1818.80" y="838.60" font-size="35.35" text-anchor="middle" stroke="#000" stroke-width="0.3">Drug dose (μM)</text>
<text transform="translate(1615.00 673.20) rotate(-90)" font-size="35.5" text-anchor="middle" stroke="#000" stroke-width="0.3">Slope</text>
</g>
<text x="913.80" y="925.00" font-size="31.2" stroke="#000" stroke-width="0.3">Focal mutation:</text>
<rect x="1194.8" y="898" width="33.8" height="33.9" fill="#e96a58"/>
<text x="1244.30" y="925.00" font-size="31.5" stroke="#000" stroke-width="0.3">C59R</text>
<rect x="1351.4" y="898" width="33.8" height="33.9" fill="#a6d04e"/>
<text x="1400.50" y="925.00" font-size="31.5" stroke="#000" stroke-width="0.3">I164L</text>
<rect x="1507.7" y="898" width="33.8" height="33.9" fill="#7a9cd3"/>
<text x="1557.20" y="925.00" font-size="31.5" stroke="#000" stroke-width="0.3">S108N</text>
<rect x="1664.2" y="898" width="33.8" height="33.9" fill="#e6da56"/>
<text x="1713.30" y="925.00" font-size="31.5" stroke="#000" stroke-width="0.3">N51I</text>
<text transform="translate(7.2,40.7) scale(0.772,1)" font-size="46.4" font-weight="bold">a</text>
<text transform="translate(664.3,40.9) scale(0.857,1)" font-size="46.4" font-weight="bold">b</text>
<text transform="translate(7.1,532.4) scale(0.842,1)" font-size="46.4" font-weight="bold">c</text>
<text transform="translate(765.5,532.4) scale(0.858,1)" font-size="46.4" font-weight="bold">d</text>
<text transform="translate(1194.6,532.4) scale(0.857,1)" font-size="46.4" font-weight="bold">e</text>
<text transform="translate(1621.4,532.4) scale(0.956,1)" font-size="46.4" font-weight="bold">f</text>
</svg></body></html>
